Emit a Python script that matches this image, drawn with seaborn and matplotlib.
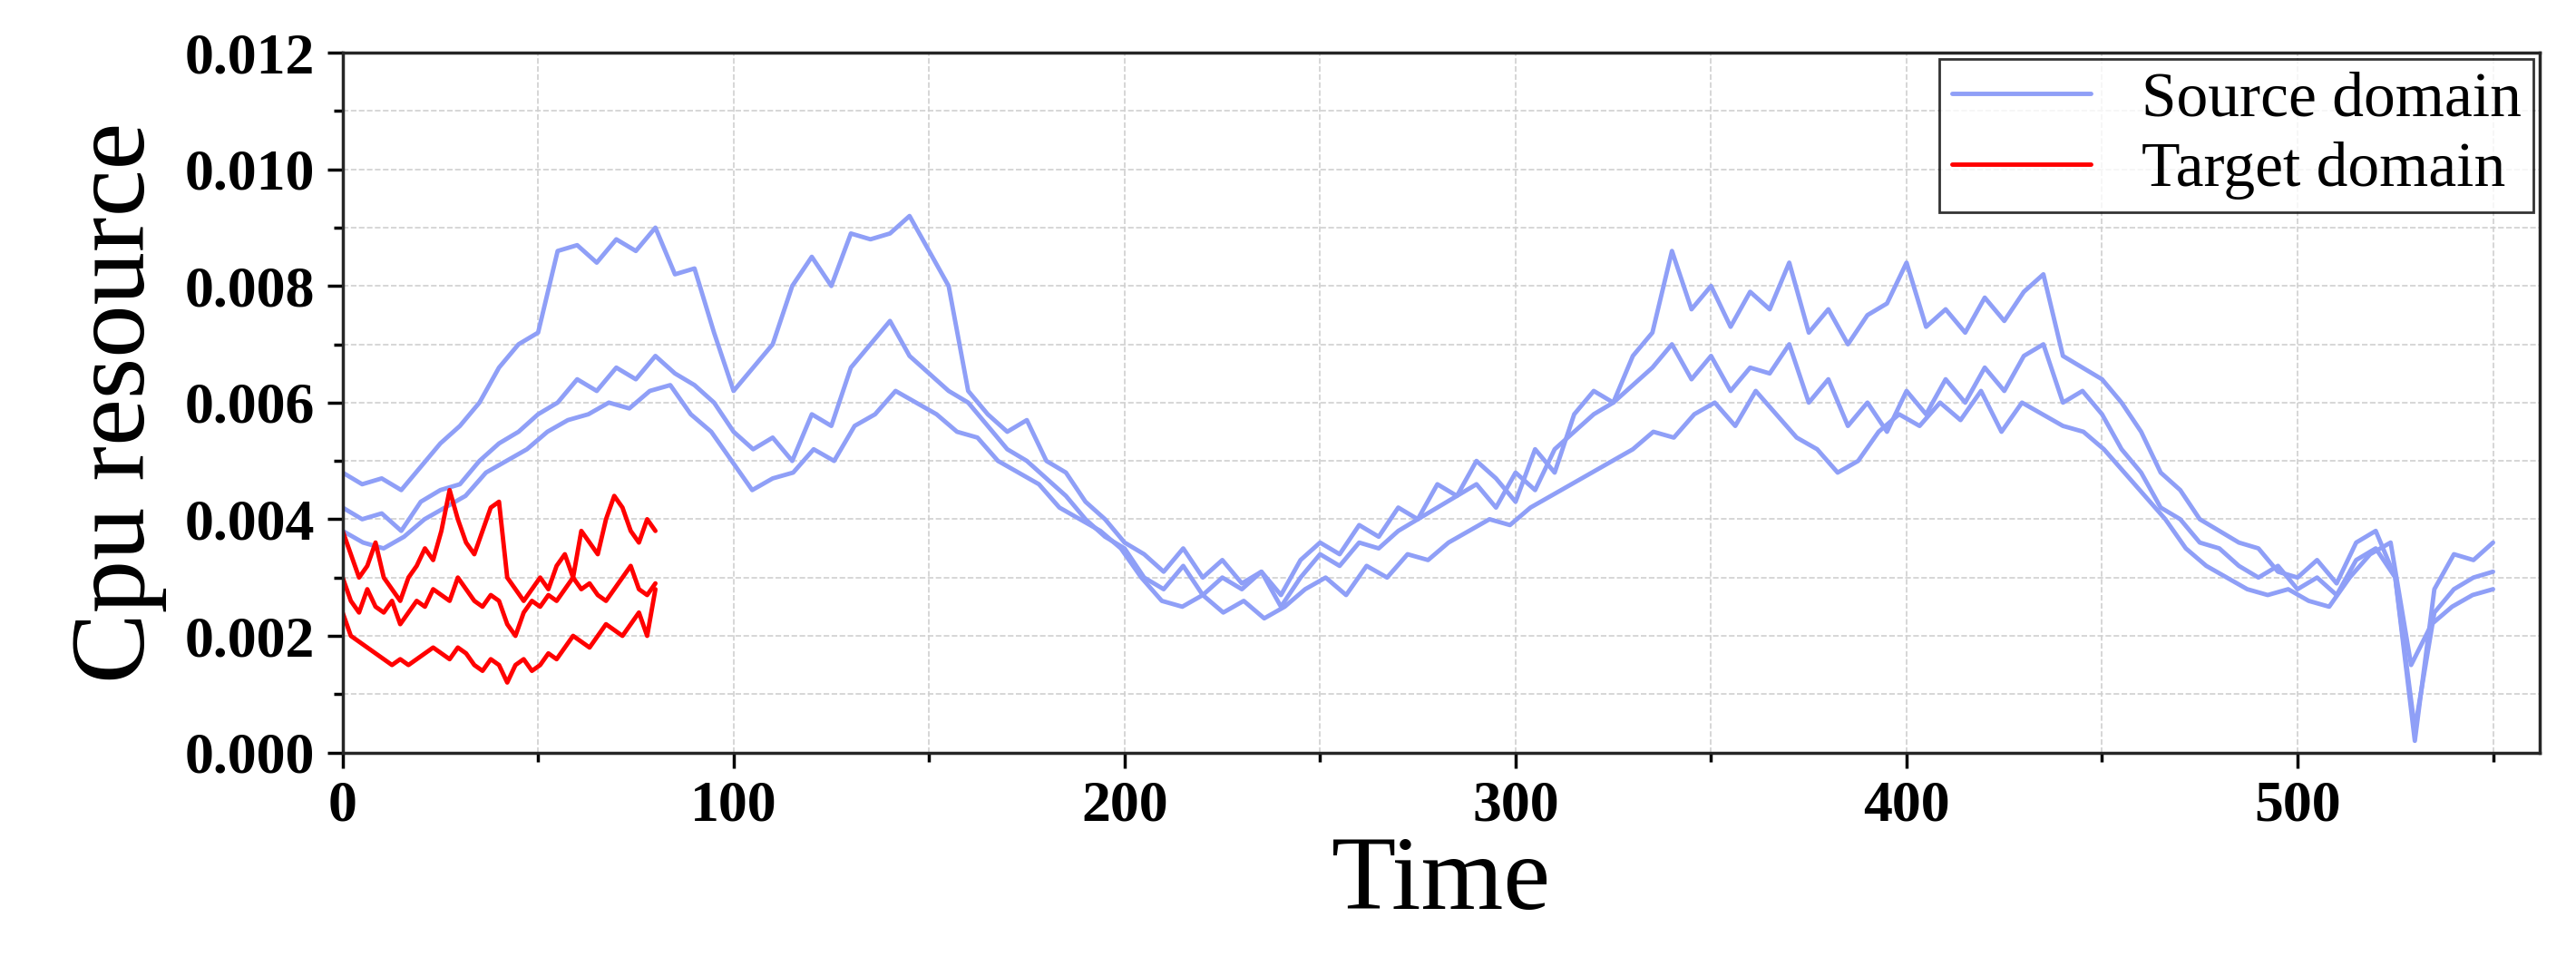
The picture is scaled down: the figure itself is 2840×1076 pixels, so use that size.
import numpy as np
import pandas as pd
import matplotlib
matplotlib.use("Agg")
import matplotlib.pyplot as plt
import seaborn as sns
from matplotlib.ticker import MultipleLocator

# values in units of 1e-4
src_a = [48,46,47,45,49,53,56,60,66,70,72,86,87,84,88,86,90,82,83,72,62,66,70,80,85,80,89,88,89,92,86,80,62,58,55,57,50,48,43,40,
         36,34,31,35,30,33,29,31,27,33,36,34,39,37,42,40,46,44,50,47,43,52,48,58,62,60,68,72,86,76,80,73,79,76,84,72,76,70,75,77,
         84,73,76,72,78,74,79,82,68,66,64,60,55,48,45,40,38,36,35,31,30,33,29,36,38,30,2,28,34,33,36]
src_b = [42,40,41,38,43,45,46,50,53,55,58,60,64,62,66,64,68,65,63,60,55,52,54,50,58,56,66,70,74,68,65,62,60,56,52,50,47,44,40,37,
         35,30,28,32,27,30,28,31,25,30,34,32,36,35,38,40,42,44,46,42,48,45,52,55,58,60,63,66,70,64,68,62,66,65,70,60,64,56,60,55,
         62,58,64,60,66,62,68,70,60,62,58,52,48,42,40,36,35,32,30,32,28,30,27,33,35,30,4,24,28,30,31]
src_c = [38,36,35,37,40,42,44,48,50,52,55,57,58,60,59,62,63,58,55,50,45,47,48,52,50,56,58,62,60,58,55,54,50,48,46,42,40,38,35,30,
         26,25,27,24,26,23,25,28,30,27,32,30,34,33,36,38,40,39,42,44,46,48,50,52,55,54,58,60,56,62,58,54,52,48,50,55,58,56,60,57,
         62,55,60,58,56,55,52,48,44,40,35,32,30,28,27,28,26,25,30,34,36,15,22,25,27,28]
tgt_a = [38,34,30,32,36,30,28,26,30,32,35,33,38,45,40,36,34,38,42,43,30,28,26,28,30,28,32,34,30,38,36,34,40,44,42,38,36,40,38]
tgt_b = [30,26,24,28,25,24,26,22,24,26,25,28,27,26,30,28,26,25,27,26,22,20,24,26,25,27,26,28,30,28,29,27,26,28,30,32,28,27,29]
tgt_c = [24,20,19,18,17,16,15,16,15,16,17,18,17,16,18,17,15,14,16,15,12,15,16,14,15,17,16,18,20,19,18,20,22,21,20,22,24,20,28]

sns.set_style("ticks")
plt.rcParams['font.family'] = ['Liberation Serif', 'DejaVu Serif']
plt.rcParams['text.color'] = 'black'
plt.rcParams['axes.labelcolor'] = 'black'
plt.rcParams['xtick.color'] = 'black'
plt.rcParams['ytick.color'] = 'black'
fig = plt.figure(figsize=(28.4, 10.76), dpi=100)
ax = fig.add_axes([0.133, 0.229, 0.853, 0.717])

def draw(vals, xmax, color, label):
    df = pd.DataFrame({"t": np.linspace(0, xmax, len(vals)), "v": np.array(vals) * 1e-4})
    sns.lineplot(data=df, x="t", y="v", ax=ax, color=color, lw=3.5, label=label)

blue = "#8f9ff7"
red = "#ff0000"
draw(src_a, 550, blue, "Source domain")
draw(src_b, 550, blue, None)
draw(src_c, 550, blue, None)
draw(tgt_a, 80, red, "Target domain")
draw(tgt_b, 80, red, None)
draw(tgt_c, 80, red, None)

ax.set_xlim(0, 562)
ax.set_ylim(0, 0.012)
ax.xaxis.set_major_locator(MultipleLocator(100))
ax.xaxis.set_minor_locator(MultipleLocator(50))
ax.yaxis.set_major_locator(MultipleLocator(0.002))
ax.yaxis.set_minor_locator(MultipleLocator(0.001))
ax.yaxis.set_major_formatter(matplotlib.ticker.FormatStrFormatter('%.3f'))
ax.grid(True, which='both', ls='--', color='#d0d0d0', lw=1.2)
ax.tick_params(which='major', length=12, width=2.5, labelsize=46, pad=10)
ax.tick_params(which='minor', length=7, width=2.5)
for lab in ax.get_xticklabels() + ax.get_yticklabels():
    lab.set_fontweight('bold')
for s in ax.spines.values():
    s.set_linewidth(2.5)
ax.set_xlabel("Time", fontsize=84, labelpad=2)
ax.set_ylabel("Cpu resource", fontsize=84, labelpad=14)
leg = ax.legend(loc='upper right', fontsize=50, frameon=True, fancybox=False,
                edgecolor='black', borderaxespad=0.1, handlelength=2.2,
                labelspacing=0.2, borderpad=0.2)
leg.get_frame().set_linewidth(2)
fig.savefig("out.png", dpi=100)
